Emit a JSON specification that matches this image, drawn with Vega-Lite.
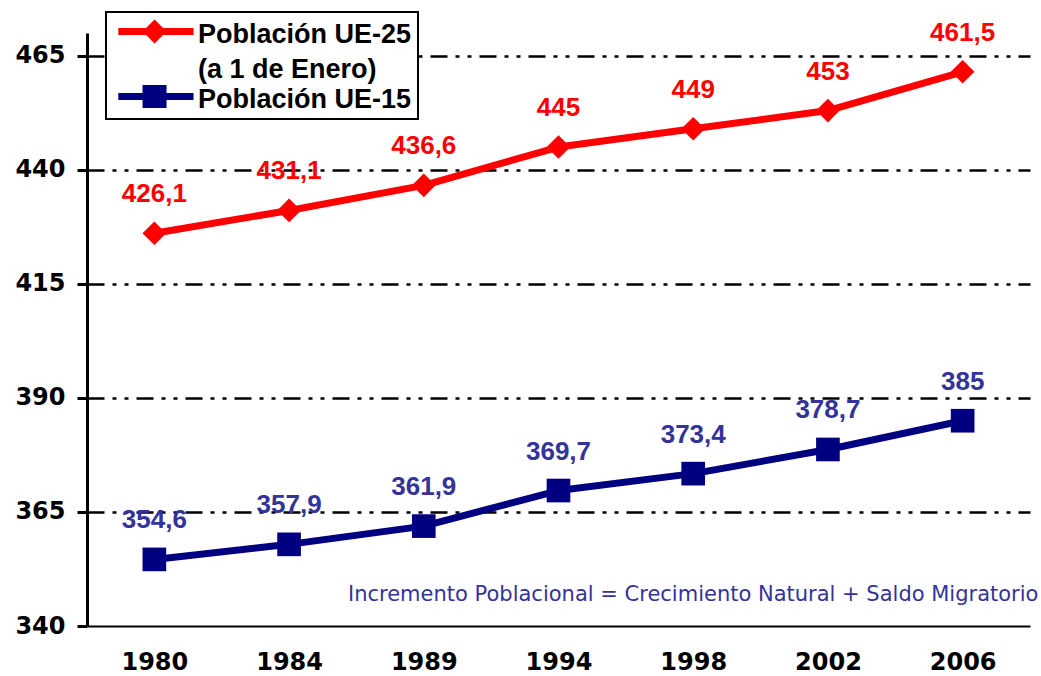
{
  "$schema": "https://vega.github.io/schema/vega-lite/v6.json",
  "width": 943,
  "height": 593,
  "autosize": {"type": "none"},
  "padding": {"left": 87, "top": 33, "right": 11, "bottom": 50},
  "background": "white",
  "config": {
    "view": {"stroke": null},
    "locale": {"number": {"decimal": ",", "thousands": ".", "grouping": [3], "currency": ["", " €"]}}
  },
  "data": {
    "values": [
      {"year": "1980", "serie": "Población UE-25", "value": 426.1},
      {"year": "1984", "serie": "Población UE-25", "value": 431.1},
      {"year": "1989", "serie": "Población UE-25", "value": 436.6},
      {"year": "1994", "serie": "Población UE-25", "value": 445},
      {"year": "1998", "serie": "Población UE-25", "value": 449},
      {"year": "2002", "serie": "Población UE-25", "value": 453},
      {"year": "2006", "serie": "Población UE-25", "value": 461.5},
      {"year": "1980", "serie": "Población UE-15", "value": 354.6},
      {"year": "1984", "serie": "Población UE-15", "value": 357.9},
      {"year": "1989", "serie": "Población UE-15", "value": 361.9},
      {"year": "1994", "serie": "Población UE-15", "value": 369.7},
      {"year": "1998", "serie": "Población UE-15", "value": 373.4},
      {"year": "2002", "serie": "Población UE-15", "value": 378.7},
      {"year": "2006", "serie": "Población UE-15", "value": 385}
    ]
  },
  "encoding": {
    "x": {
      "field": "year", "type": "ordinal",
      "scale": {"type": "point", "padding": 0.5},
      "axis": {
        "title": null, "labelAngle": 0, "ticks": false,
        "domainColor": "black", "domainWidth": 2,
        "labelFont": "DejaVu Sans", "labelFontWeight": "bold", "labelFontSize": 24,
        "labelColor": "black", "labelPadding": 24, "grid": false
      }
    },
    "y": {
      "field": "value", "type": "quantitative",
      "scale": {"domain": [340, 470], "nice": false, "zero": false},
      "axis": {
        "title": null, "values": [340, 365, 390, 415, 440, 465], "format": "d",
        "domainColor": "black", "domainWidth": 3,
        "tickColor": "black", "tickWidth": 3, "tickSize": 10,
        "labelFont": "DejaVu Sans", "labelFontWeight": "bold", "labelFontSize": 24,
        "labelColor": "black", "labelPadding": 12,
        "grid": true, "gridColor": "black", "gridWidth": 2.5, "gridDash": [17, 8, 4, 8, 4, 8],
        "gridOpacity": {"expr": "datum.value == 340 ? 0 : 1"}
      }
    }
  },
  "layer": [
    {
      "mark": {"type": "line", "strokeWidth": 7, "strokeCap": "round", "strokeJoin": "round"},
      "encoding": {
        "color": {
          "field": "serie", "type": "nominal",
          "scale": {"domain": ["Población UE-25", "Población UE-15"], "range": ["#FF0000", "#000080"]},
          "legend": {
            "title": null, "orient": "none", "legendX": 19, "legendY": -21,
            "fillColor": "white", "strokeColor": "black", "padding": 6,
            "symbolSize": 576, "labelLimit": 500, "rowPadding": 0,
            "labelFont": "Liberation Sans", "labelFontWeight": "bold", "labelFontSize": 27,
            "labelColor": "black", "labelOffset": 59, "labelBaseline": "top",
            "labelExpr": "datum.label == 'Población UE-25' ? ['Población UE-25', '(a 1 de Enero)'] : datum.label",
            "encode": {
              "legend": {"update": {"strokeWidth": {"value": 2}}},
              "labels": {"update": {"dy": {"value": -10}, "lineHeight": {"value": 35}}},
              "symbols": {
                "update": {
                  "shape": {"signal": "datum.value == 'Población UE-25' ? 'M-0.6,-0.29H5.67V0.29H-0.6Z M2.42,-1L3.42,0L2.42,1L1.42,0Z' : 'M-0.6,-0.29H5.67V0.29H-0.6Z M1.42,-0.95H3.42V0.95H1.42Z'"},
                  "fill": {"signal": "datum.value == 'Población UE-25' ? '#FF0000' : '#000080'"},
                  "opacity": {"value": 1},
                  "fillOpacity": {"value": 1},
                  "strokeWidth": {"value": 0},
                  "size": {"value": 576}
                }
              }
            }
          }
        }
      }
    },
    {
      "transform": [{"filter": "datum.serie == 'Población UE-25'"}],
      "mark": {"type": "point", "filled": true, "opacity": 1, "size": 560, "shape": "diamond", "color": "#FF0000"}
    },
    {
      "transform": [{"filter": "datum.serie == 'Población UE-15'"}],
      "mark": {"type": "point", "filled": true, "opacity": 1, "size": 560, "shape": "square", "color": "#000080"}
    },
    {
      "mark": {"type": "text", "dy": -31, "fontSize": 26, "font": "Liberation Sans", "fontWeight": "bold", "baseline": "alphabetic"},
      "encoding": {
        "text": {"field": "value", "type": "quantitative", "format": ".1~f"},
        "color": {
          "condition": {"test": "datum.serie == 'Población UE-15'", "value": "#333399"},
          "value": "#FF0000"
        }
      }
    },
    {
      "data": {"values": [{"year": "1998", "value": 346.8, "t": "Incremento Poblacional = Crecimiento Natural + Saldo Migratorio"}]},
      "mark": {"type": "text", "fontSize": 21, "font": "DejaVu Sans", "baseline": "middle", "align": "center", "color": "#333399"},
      "encoding": {
        "text": {"field": "t", "type": "nominal"}
      }
    }
  ]
}
